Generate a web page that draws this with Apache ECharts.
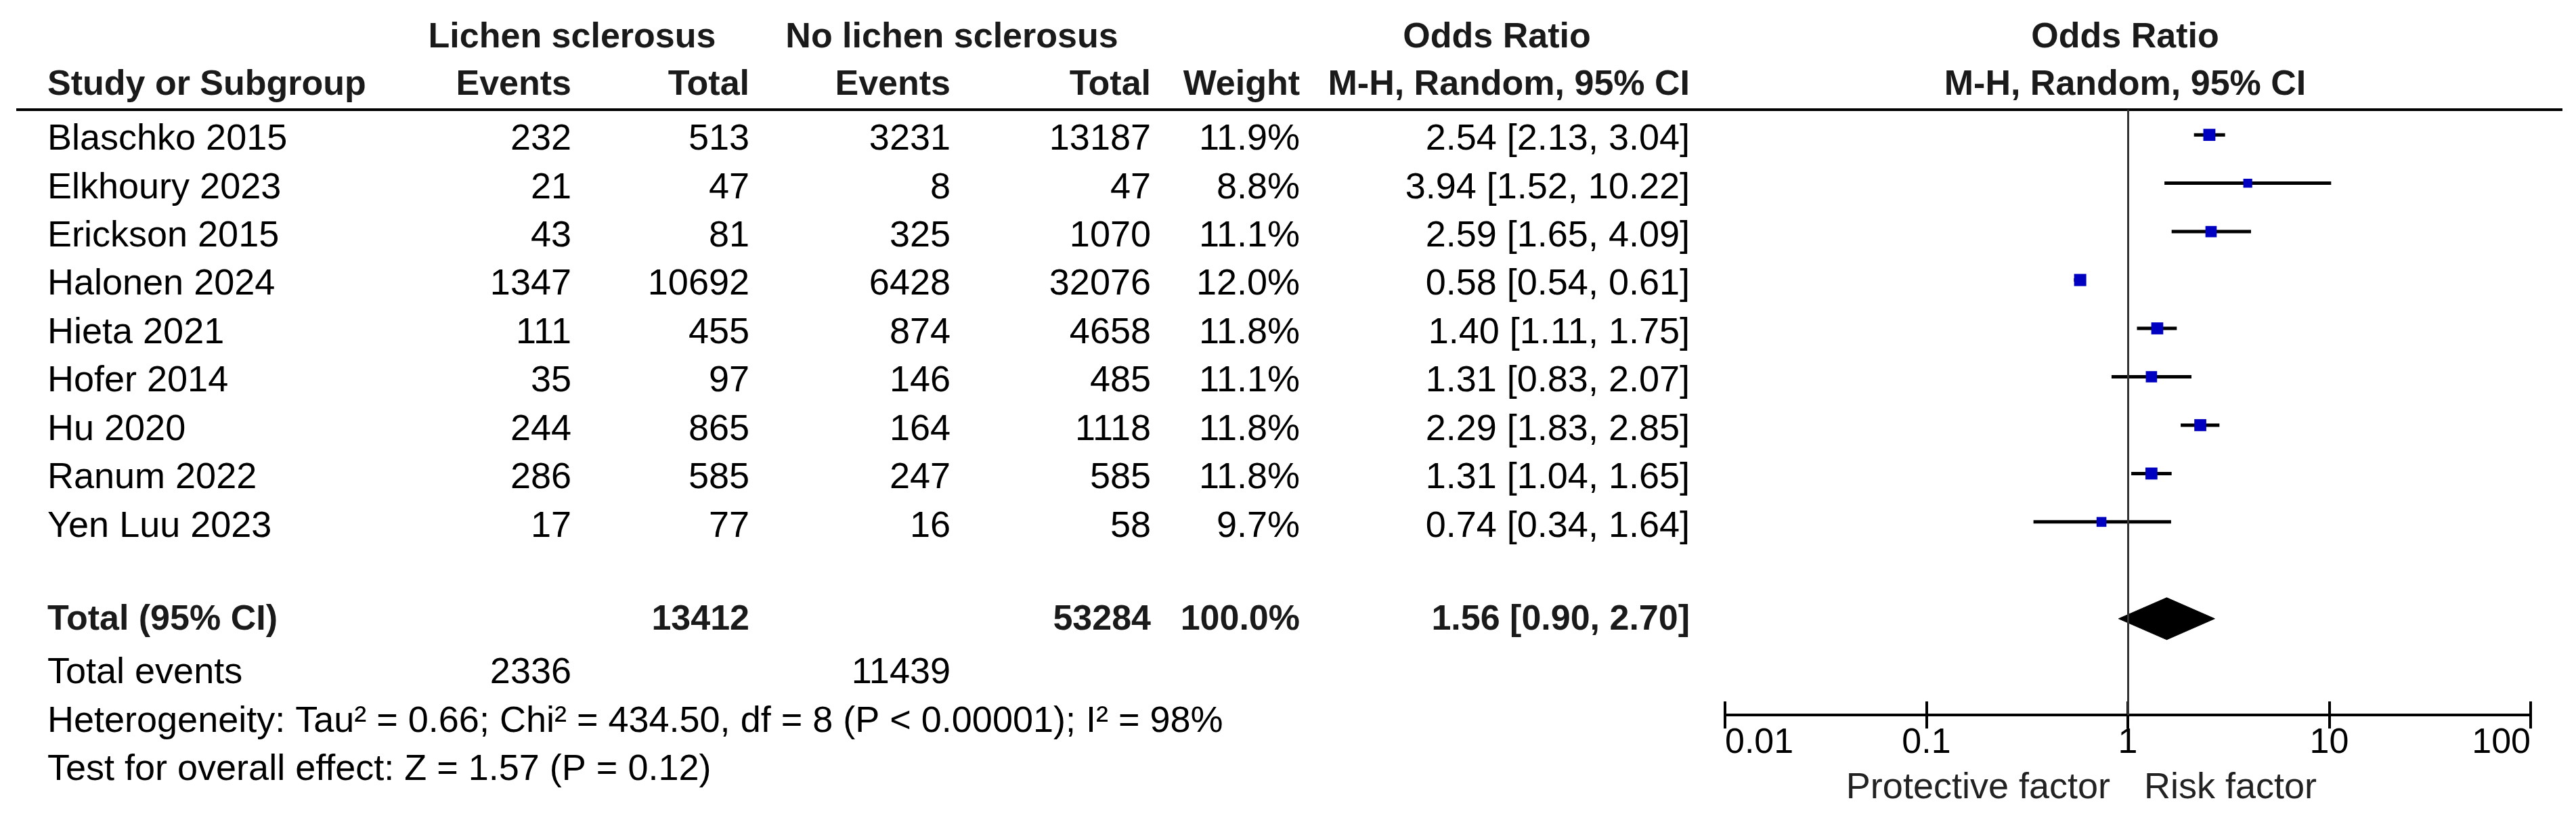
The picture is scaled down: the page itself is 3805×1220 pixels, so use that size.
<!DOCTYPE html>
<html>
<head>
<meta charset="utf-8">
<script src="https://cdn.jsdelivr.net/npm/echarts@6/dist/echarts.min.js"></script>
<style>
html,body{margin:0;padding:0;background:#fff;}
#chart{width:3805px;height:1220px;}
</style>
</head>
<body>
<div id="chart"></div>
<script>
// ---------- data ----------
const studies = ['Blaschko 2015','Elkhoury 2023','Erickson 2015','Halonen 2024','Hieta 2021','Hofer 2014','Hu 2020','Ranum 2022','Yen Luu 2023'];
const lsEvents = [232, 21, 43, 1347, 111, 35, 244, 286, 17];
const lsTotal = [513, 47, 81, 10692, 455, 97, 865, 585, 77];
const noEvents = [3231, 8, 325, 6428, 874, 146, 164, 247, 16];
const noTotal = [13187, 47, 1070, 32076, 4658, 485, 1118, 585, 58];
const weights = [11.9, 8.8, 11.1, 12.0, 11.8, 11.1, 11.8, 11.8, 9.7];
const orEst = [2.54, 3.94, 2.59, 0.58, 1.40, 1.31, 2.29, 1.31, 0.74];
const orLow = [2.13, 1.52, 1.65, 0.54, 1.11, 0.83, 1.83, 1.04, 0.34];
const orHigh = [3.04, 10.22, 4.09, 0.61, 1.75, 2.07, 2.85, 1.65, 1.64];
const totalLs = 13412;
const totalNo = 53284;
const totalWeight = 100.0;
const totalOr = [1.56, 0.90, 2.70];
const totalEventsLs = 2336;
const totalEventsNo = 11439;
const heterogeneityText = 'Heterogeneity: Tau\u00b2 = 0.66; Chi\u00b2 = 434.50, df = 8 (P < 0.00001); I\u00b2 = 98%';
const overallText = 'Test for overall effect: Z = 1.57 (P = 0.12)';
const tickLabels = ['0.01','0.1','1','10','100'];
const totalRow = 10;

// ---------- chart ----------
const FONT = '"Liberation Sans", Arial, sans-serif';
const chart = echarts.init(document.getElementById('chart'), null, {renderer: 'canvas'});

const fmt2 = v => v.toFixed(2);
const orText = (e, l, h) => fmt2(e) + ' [' + fmt2(l) + ', ' + fmt2(h) + ']';
const GRID_H = 894;

chart.setOption({
  animation: false,
  backgroundColor: '#ffffff',
  grid: {left: 2548, width: 1190, top: 162, height: GRID_H, containLabel: false},
  xAxis: [{
    type: 'log', logBase: 10, min: 0.01, max: 100, position: 'bottom',
    axisLine: {show: true, onZero: false, lineStyle: {color: '#000', width: 4}},
    axisTick: {show: true, inside: false, length: 20, lineStyle: {color: '#000', width: 4}},
    axisLabel: {
      show: true, color: '#000', fontSize: 52, fontFamily: FONT, margin: 16,
      alignMinLabel: 'left', alignMaxLabel: 'right',
      formatter: v => tickLabels.find(t => Math.abs(Math.log10(+t) - Math.log10(v)) < 1e-6) || ''
    },
    splitLine: {show: false}, minorTick: {show: false}
  }, {
    // upper half of the crossing ticks, moved down onto the bottom axis line
    type: 'log', logBase: 10, min: 0.01, max: 100, position: 'top', offset: -GRID_H,
    axisLine: {show: false, onZero: false},
    axisTick: {show: true, inside: false, length: 20, lineStyle: {color: '#000', width: 4}},
    axisLabel: {show: false},
    splitLine: {show: false}
  }],
  yAxis: {type: 'value', inverse: true, min: -0.52, max: 11.99, show: false},
  series: [{
    type: 'custom',
    xAxisIndex: 0,
    encode: {x: [0, 1], y: 2},
    data: studies.map((s, i) => [orLow[i], orHigh[i], i]),
    renderItem: (params, api) => {
      const a = api.coord([api.value(0), api.value(2)]);
      const b = api.coord([api.value(1), api.value(2)]);
      return {type: 'line', shape: {x1: a[0], y1: a[1], x2: b[0], y2: b[1]}, style: {stroke: '#000', lineWidth: 5}};
    },
    markLine: {
      silent: true, symbol: 'none', label: {show: false},
      lineStyle: {color: '#333', width: 3, type: 'solid'},
      data: [{xAxis: 1}]
    },
    z: 3
  }, {
    type: 'scatter',
    xAxisIndex: 0,
    symbol: 'rect',
    data: studies.map((s, i) => ({value: [orEst[i], i], symbolSize: weights[i] * 1.5})),
    itemStyle: {color: '#0000c0', opacity: 1},
    z: 4
  }, {
    type: 'custom',
    xAxisIndex: 0,
    encode: {x: [0, 1, 2], y: 3},
    data: [[totalOr[1], totalOr[0], totalOr[2], totalRow]],
    renderItem: (params, api) => {
      const lo = api.coord([api.value(0), api.value(3)]);
      const est = api.coord([api.value(1), api.value(3)]);
      const hi = api.coord([api.value(2), api.value(3)]);
      const h = 31;
      return {type: 'polygon', shape: {points: [[lo[0], lo[1]], [est[0], est[1] - h], [hi[0], hi[1]], [est[0], est[1] + h]]}, style: {fill: '#000', stroke: '#000', lineWidth: 1}};
    },
    z: 4
  }]
});

// ---------- table text ----------
const rowY = i => chart.convertToPixel({yAxisIndex: 0}, i);
const xOne = chart.convertToPixel({xAxisIndex: 0}, 1);
const g = [];
function txt(text, x, y, align, bold, color) {
  g.push({type: 'text', silent: true, style: {
    text: String(text), x: x, y: y, align: align, verticalAlign: 'middle',
    fontSize: bold ? 52 : 54, fontWeight: bold ? 'bold' : 'normal', fontFamily: FONT,
    fill: color || '#000'
  }});
}
const H = '#1a1a1a';
const colName = 70, colE1 = 844, colT1 = 1107, colE2 = 1404, colT2 = 1700, colW = 1920, colOR = 2496;
// header
txt('Lichen sclerosus', 845, 56, 'center', true, H);
txt('No lichen sclerosus', 1406, 56, 'center', true, H);
txt('Odds Ratio', 2211, 56, 'center', true, H);
txt('Odds Ratio', xOne - 4, 56, 'center', true, H);
txt('Study or Subgroup', colName, 126, 'left', true, H);
txt('Events', colE1, 126, 'right', true, H);
txt('Total', colT1, 126, 'right', true, H);
txt('Events', colE2, 126, 'right', true, H);
txt('Total', colT2, 126, 'right', true, H);
txt('Weight', colW, 126, 'right', true, H);
txt('M-H, Random, 95% CI', colOR, 126, 'right', true, H);
txt('M-H, Random, 95% CI', xOne - 4, 126, 'center', true, H);
g.push({type: 'line', silent: true, shape: {x1: 24, y1: 162, x2: 3785, y2: 162}, style: {stroke: '#000', lineWidth: 4}});
// studies
studies.forEach((s, i) => {
  const y = rowY(i) + 7;
  txt(s, colName, y, 'left');
  txt(lsEvents[i], colE1, y, 'right');
  txt(lsTotal[i], colT1, y, 'right');
  txt(noEvents[i], colE2, y, 'right');
  txt(noTotal[i], colT2, y, 'right');
  txt(weights[i].toFixed(1) + '%', colW, y, 'right');
  txt(orText(orEst[i], orLow[i], orHigh[i]), colOR, y, 'right');
});
// totals
const ty = rowY(totalRow) + 2;
txt('Total (95% CI)', colName, ty, 'left', true, H);
txt(totalLs, colT1, ty, 'right', true, H);
txt(totalNo, colT2, ty, 'right', true, H);
txt(totalWeight.toFixed(1) + '%', colW, ty, 'right', true, H);
txt(orText(totalOr[0], totalOr[1], totalOr[2]), colOR, ty, 'right', true, H);
txt('Total events', colName, 994, 'left');
txt(totalEventsLs, colE1, 994, 'right');
txt(totalEventsNo, colE2, 994, 'right');
txt(heterogeneityText, colName, 1066, 'left');
txt(overallText, colName, 1137, 'left');
// favours labels
txt('Protective factor', xOne - 26, 1164, 'right', false, '#222');
txt('Risk factor', xOne + 24, 1164, 'left', false, '#222');

chart.setOption({graphic: {elements: g}});
</script>
</body>
</html>
